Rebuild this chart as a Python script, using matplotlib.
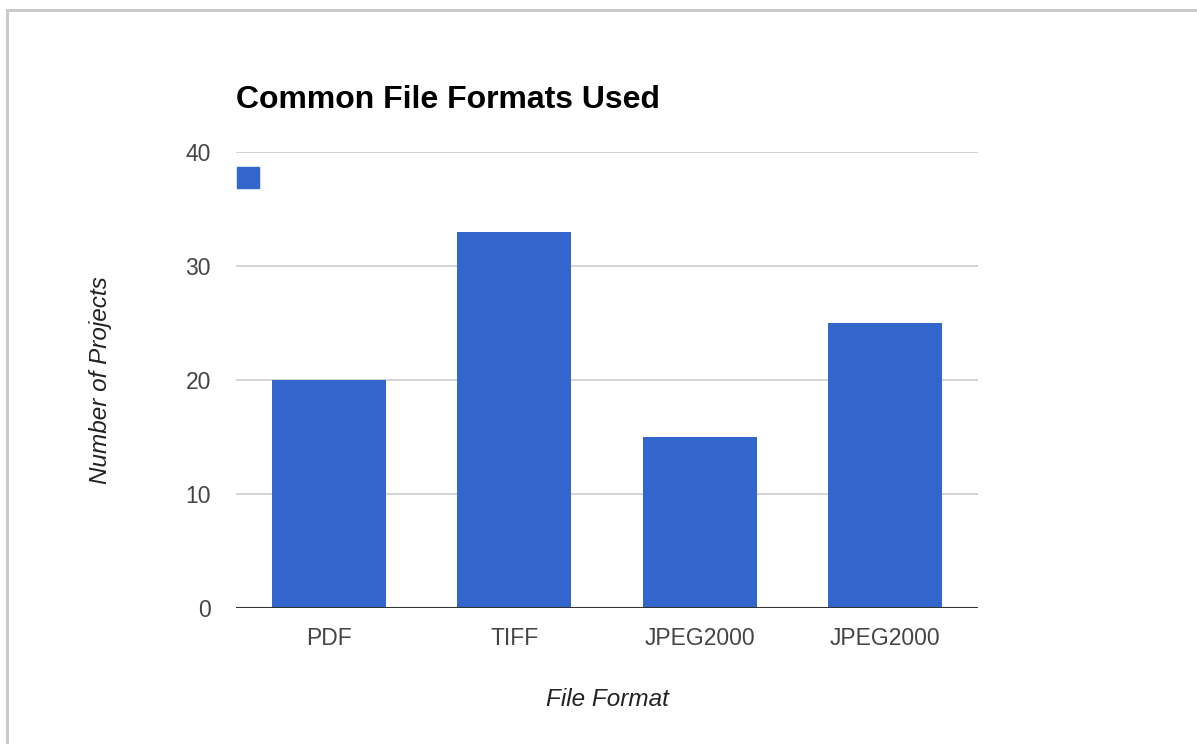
import matplotlib.pyplot as plt
from matplotlib.patches import Rectangle
from matplotlib.lines import Line2D

formats = ['PDF', 'TIFF', 'JPEG2000', 'JPEG2000']
projects = [20, 33, 15, 25]
y_ticks = [0, 10, 20, 30, 40]

W, H = 1197, 744
bar_color = '#3366cc'

plt.rcParams['font.family'] = ['Liberation Sans', 'DejaVu Sans']

fig = plt.figure(figsize=(W / 100, H / 100), dpi=100)
ax = fig.add_axes([236 / W, 1 - 608 / H, (978 - 236) / W, (608 - 152) / H])

x = range(len(formats))
ax.bar(x, projects, width=0.615, color=bar_color, zorder=2)

ax.set_xlim(-0.5, len(formats) - 0.5)
ax.set_ylim(0, 40)
ax.set_yticks(y_ticks)
ax.set_xticks(list(x))
ax.set_xticklabels(formats)
ax.grid(axis='y', color='#cccccc', linewidth=1.2, zorder=0)
ax.axhline(0, color='#333333', linewidth=1.5, zorder=3)

for s in ax.spines.values():
    s.set_visible(False)
ax.tick_params(axis='both', length=0, labelsize=16.5, colors='#444444')
ax.tick_params(axis='y', pad=18)
ax.tick_params(axis='x', pad=14)

ax.set_xlabel('File Format', fontsize=17.5, style='italic', color='#222222', labelpad=27)
ax.set_ylabel('Number of Projects', fontsize=17.5, style='italic', color='#222222', labelpad=53)

fig.text(236 / W, 1 - 100 / H, 'Common File Formats Used', fontsize=23, fontweight='bold',
         color='#000000', ha='left', va='center')

# legend swatch
fig.patches.append(Rectangle((237 / W, 1 - 188 / H), 22 / W, 21 / H,
                             transform=fig.transFigure, color=bar_color))

# frame lines at top and left
fig.lines.append(Line2D([7 / W, 1], [1 - 10 / H, 1 - 10 / H], transform=fig.transFigure,
                        color='#c8c8c8', linewidth=2))
fig.lines.append(Line2D([7 / W, 7 / W], [0, 1 - 10 / H], transform=fig.transFigure,
                        color='#c8c8c8', linewidth=2))

fig.savefig('out.png', dpi=100)
